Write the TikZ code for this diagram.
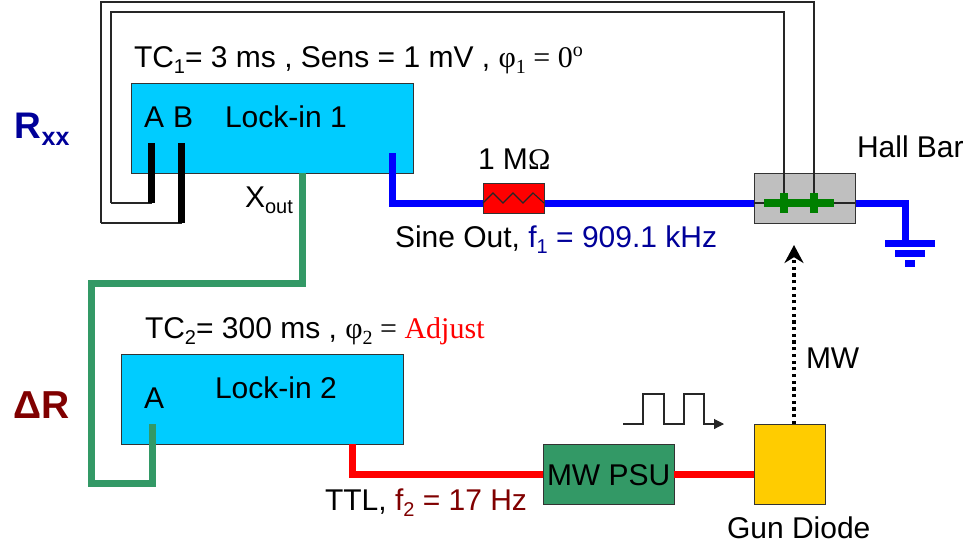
\documentclass[tikz,border=0pt]{standalone}
\usepackage{fontspec}
\setmainfont{Liberation Sans}
\newfontfamily\serifphi{Liberation Serif}
\usetikzlibrary{arrows.meta}

\definecolor{boxblue}{HTML}{00CCFF}
\definecolor{wiregreen}{HTML}{339966}
\definecolor{barblue}{HTML}{000099}
\definecolor{darkred}{HTML}{800000}
\definecolor{diodeyellow}{HTML}{FFCC00}

\tikzset{box:style/.style={draw=black!80,semithick,inner sep=0pt,outer sep=0pt}}
\tikzset{label:style/.style={inner sep=0pt,outer sep=0pt,anchor=base west,font=\fontsize{30}{32}\selectfont}}
\tikzset{wire:style/.style={draw,line width=7pt,line join=miter}}
\tikzset{thin:style/.style={draw,black!85,line width=1.1pt}}
\def\lowtext#1{\raisebox{-0.22em}{\fontsize{20}{20}\selectfont #1}}
\def\phitext{\serifphi φ}

\begin{document}
\begin{tikzpicture}[x=1pt,y=-1pt]
	\useasboundingbox (0,0) rectangle (970,550);

	\path
		(392,153) coordinate (csine)
		(392,203) coordinate (csinecorner)
		(483,203) coordinate (cresin)
		(544,203) coordinate (cresout)
		(754,203) coordinate (challin)
		(855,203) coordinate (challout)
		(905,203) coordinate (cgndcorner)
		(905,243) coordinate (cgnd)
		(151.5,143) coordinate (cinA)
		(151.5,203) coordinate (cinAend)
		(181.5,143) coordinate (cinB)
		(181.5,223) coordinate (cinBend)
		(111,203) coordinate (cwireA0)
		(111,12) coordinate (cwireA1)
		(784,12) coordinate (cwireA2)
		(784,203) coordinate (cpadA)
		(101,223) coordinate (cwireB0)
		(101,2) coordinate (cwireB1)
		(814,2) coordinate (cwireB2)
		(814,203) coordinate (cpadB)
		(302,173) coordinate (cxout)
		(302,283) coordinate (cxout1)
		(91,283) coordinate (cxout2)
		(91,483) coordinate (cxout3)
		(152,483) coordinate (cxout4)
		(152,424) coordinate (cinA2)
		(352,444) coordinate (cttl)
		(352,474) coordinate (cttl1)
		(543,474) coordinate (cpsuin)
		(674,474) coordinate (cpsuout)
		(754,474) coordinate (cgunin)
		(794,424) coordinate (cgunout)
		(794,245) coordinate (cmwend);

	% boxes
	\path (272,128) node[box:style,fill=boxblue,minimum width=282pt,minimum height=90pt] (lockin1) {};
	\path (262,399) node[box:style,fill=boxblue,minimum width=282pt,minimum height=90pt] (lockin2) {};
	\path (608.5,474) node[box:style,fill=wiregreen,minimum width=131pt,minimum height=60pt] (psu) {};
	\path (789.5,464) node[box:style,fill=diodeyellow,minimum width=71pt,minimum height=80pt] (gun) {};

	% blue line
	\path[wire:style,blue] (csine) -- (csinecorner) -- (cresin);
	\path[wire:style,blue] (cresout) -- (challin);
	\path[wire:style,blue] (challout) -- (cgndcorner) -- (cgnd);
	\path[wire:style,blue] (885,243.5) -- (935,243.5);
	\path[wire:style,blue] (895,253.5) -- (925,253.5);
	\path[wire:style,blue] (905,263.5) -- (915,263.5);

	% resistor and Hall bar
	\path (513.5,198) node[box:style,fill=red,minimum width=61pt,minimum height=30pt] (res) {};
	\path[thin:style] (cresin) -- ++(10,-10) -- ++(10,10) -- ++(10,-10) -- ++(10,10) -- ++(10,-10) -- (cresout);
	\path (804.5,198) node[box:style,fill=black!25,minimum width=101pt,minimum height=50pt] (hall) {};
	\path[thin:style] (challin) -- (challout);

	% pick-up wires
	\path[thin:style] (cwireA0) -- (cwireA1) -- (cwireA2) -- (cpadA);
	\path[thin:style] (cwireB0) -- (cwireB1) -- (cwireB2) -- (cpadB);
	\path[thin:style] (cwireA0) -- (cinAend);
	\path[thin:style] (cwireB0) -- (cinBend);
	\path[wire:style,black] (cinA) -- (cinAend);
	\path[wire:style,black] (cinB) -- (cinBend);

	% contacts
	\path[wire:style,green!50!black,line width=8pt] (764,203) -- (834,203);
	\path[wire:style,green!50!black,line width=8pt] (784,193) -- (784,213);
	\path[wire:style,green!50!black,line width=8pt] (814,193) -- (814,213);

	% green and red lines
	\path[wire:style,wiregreen] (cxout) -- (cxout1) -- (cxout2) -- (cxout3) -- (cxout4) -- (cinA2);
	\path[wire:style,red] (cttl) -- (cttl1) -- (cpsuin);
	\path[wire:style,red] (cpsuout) -- (cgunin);

	% microwaves and pulses
	\path[draw,line width=3.2pt,dash pattern=on 3.2pt off 3.5pt,-{Stealth[length=18pt,width=19pt]}] (cgunout) -- (cmwend);
	\path[thin:style,-{Triangle[length=10pt,width=10pt]}] (623,424) -- (643,424) -- (643,394) -- (664,394) -- (664,424) -- (684,424) -- (684,394) -- (704,394) -- (704,424) -- (724,424);

	% texts
	\path (134,67) node[label:style] (tc1) {TC\lowtext{1}= 3 ms , Sens = 1 mV , \phitext\lowtext{\serifphi 1} \serifphi = 0\raisebox{0.35em}{\fontsize{20}{20}\selectfont o}};
	\path (144,127) node[label:style] (inA) {A};
	\path (173,127) node[label:style] (inB) {B};
	\path (225,127) node[label:style] (name1) {Lock-in 1};
	\path (245,207) node[label:style] (xout) {X\lowtext{out}};
	\path (478,169) node[label:style] (resval) {1 M\serifphi Ω};
	\path (395,247) node[label:style] (sine) {Sine Out, \textcolor{barblue}{f\lowtext{1} = 909.1 kHz}};
	\path (857,157) node[label:style] (hallname) {Hall Bar};
	\path (15,138) node[label:style,text=barblue,font=\fontsize{37}{39}\selectfont\bfseries] (rxx) {R\raisebox{-0.2em}{\fontsize{25}{25}\selectfont xx}};
	\path (13,418) node[label:style,text=darkred,font=\fontsize{39}{41}\selectfont\bfseries] (deltar) {ΔR};
	\path (145,338) node[label:style] (tc2) {TC\lowtext{2}= 300 ms , \phitext\lowtext{\serifphi 2} = \textcolor{red}{\serifphi Adjust}};
	\path (215,398) node[label:style] (name2) {Lock-in 2};
	\path (144,408) node[label:style] (inAtwo) {A};
	\path (325,510) node[label:style] (ttl) {TTL, \textcolor{darkred}{f\lowtext{2} = 17 Hz}};
	\path (547,485) node[label:style] (psuname) {MW PSU};
	\path (727,538) node[label:style] (gunname) {Gun Diode};
	\path (806,368) node[label:style] (mw) {MW};

\end{tikzpicture}
\end{document}
